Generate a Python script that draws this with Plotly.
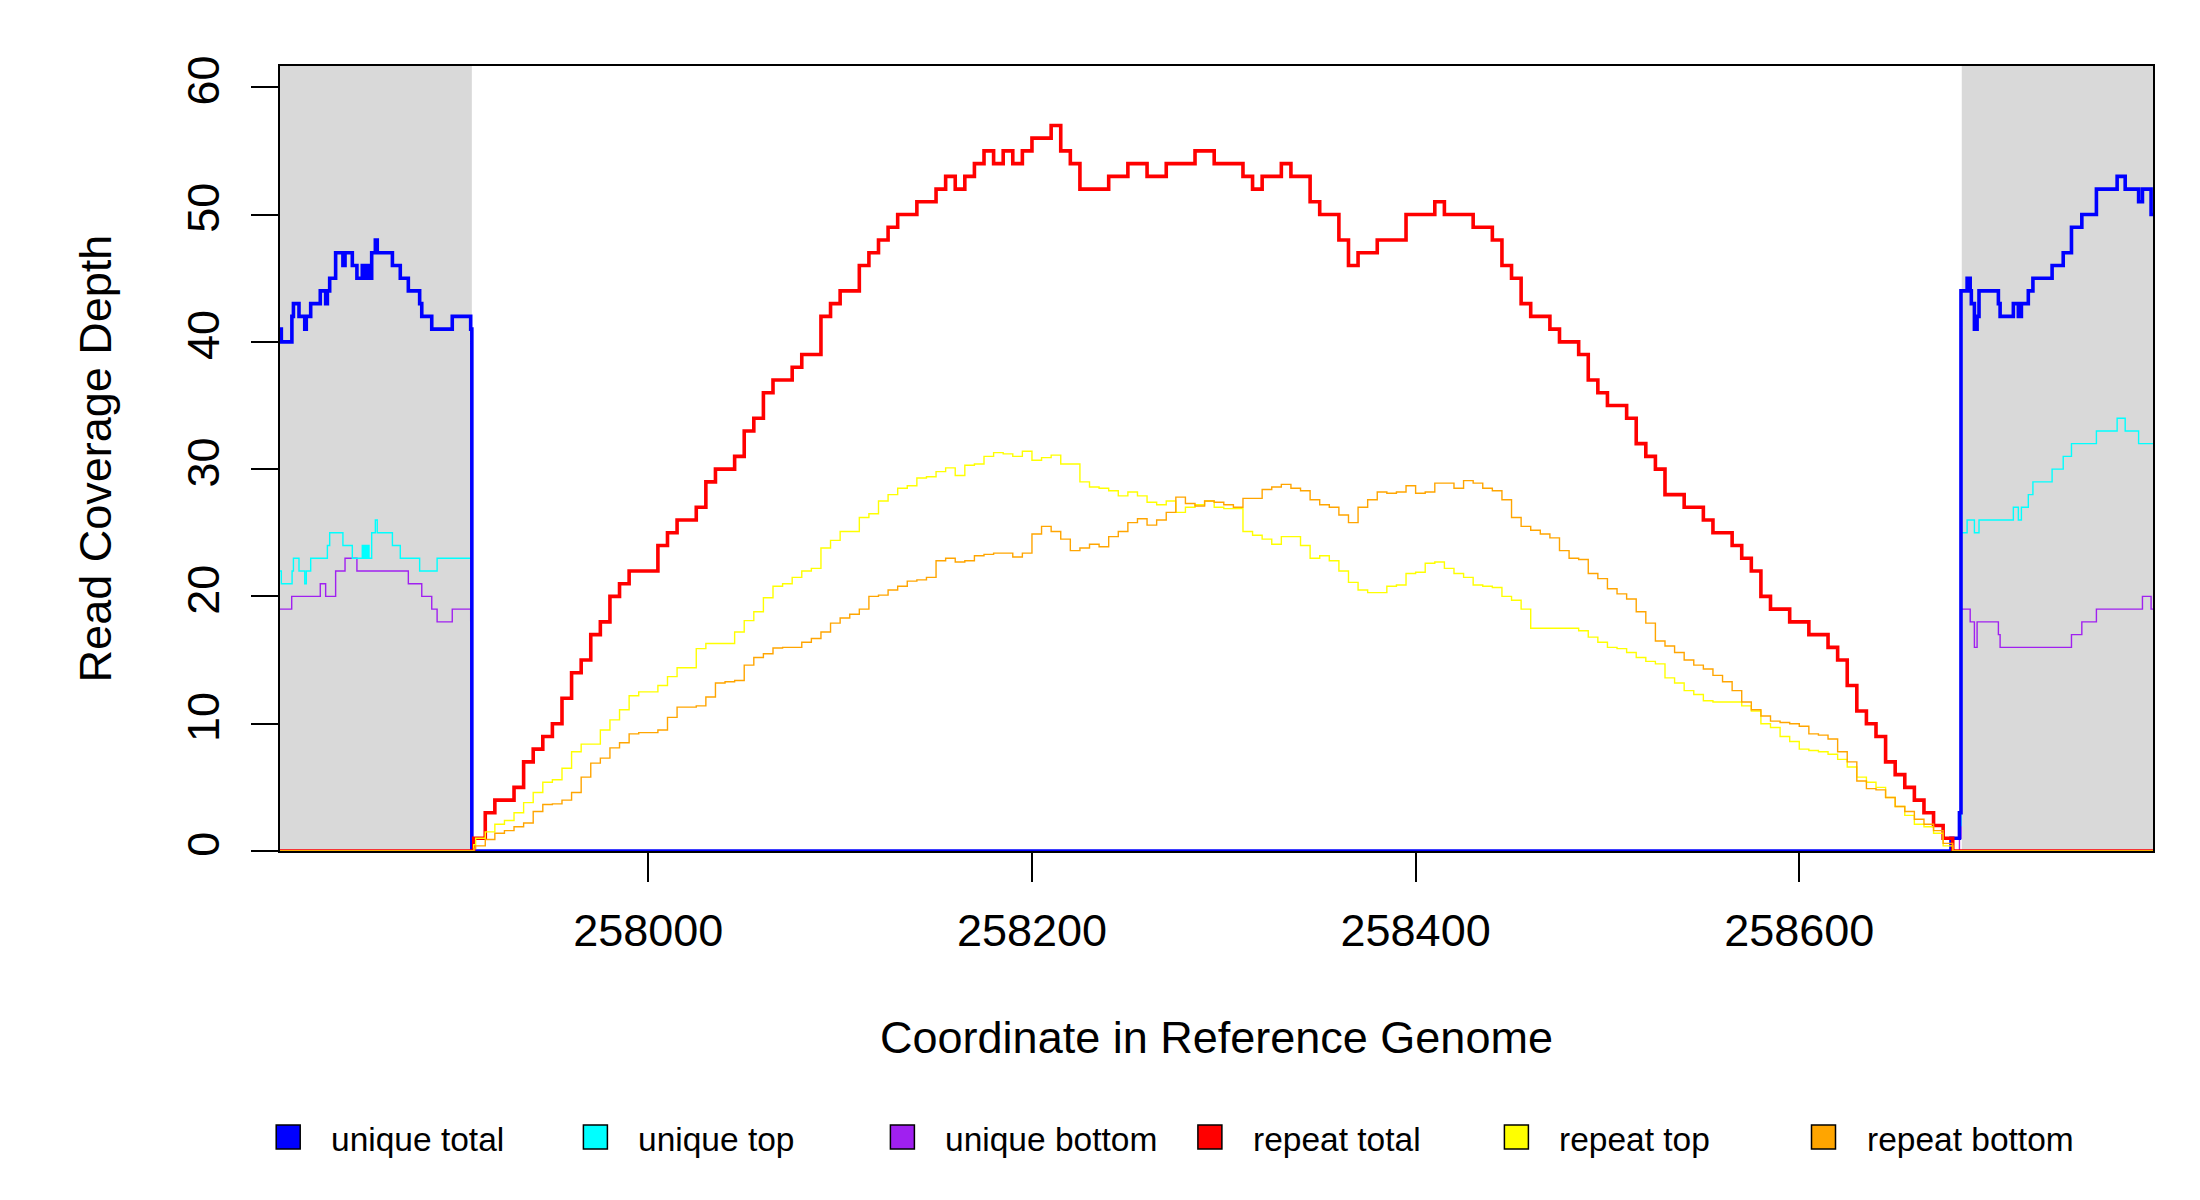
import plotly.graph_objects as go

# ---------------- data ----------------
x_ticks = [258000, 258200, 258400, 258600]
x_tick_labels = ["258000", "258200", "258400", "258600"]
y_ticks = [0, 10, 20, 30, 40, 50, 60]
flank_left = [257808, 257908]
flank_right = [258684.7, 258784.4]

series_names = ["unique total", "unique top", "unique bottom",
                "repeat total", "repeat top", "repeat bottom"]
series_colors = ["#0000FF", "#00FFFF", "#A020F0", "#FF0000", "#FFFF00", "#FFA500"]

# unique (flank) coverage: step break positions and values
unique_total_x = [257808, 257808.7, 257814.2, 257815, 257817.9, 257820.9, 257821.7, 257824,
                  257829, 257831.8, 257832.7, 257833.9, 257837, 257840.8, 257841.9, 257845.7,
                  257848.1, 257850.9, 257851.6, 257852.3, 257853, 257853.7, 257854.4, 257855.8,
                  257857.7, 257858.7, 257866.6, 257870.7, 257874.9, 257880.8, 257881.9, 257887.1,
                  257897.8, 257907.4, 257908, 258679.1, 258683.5, 258684.3, 258687.5, 258689.1,
                  258689.7, 258691.3, 258692.7, 258693.7, 258703.8, 258704.7, 258711.6, 258714.2,
                  258715.8, 258719.4, 258721.8, 258731.8, 258737.6, 258741.9, 258747.3, 258754.9,
                  258765.7, 258769.9, 258776.9, 258778.9, 258783.4, 258784.4]
unique_total_y = [41, 40, 42, 43, 42, 41, 42, 43,
                  44, 43, 44, 45, 47, 46, 47, 46,
                  45, 46, 45, 46, 45, 46, 45, 47,
                  48, 47, 46, 45, 44, 43, 42, 41,
                  42, 41, 0, 1, 3, 44, 45, 44,
                  43, 41, 42, 44, 43, 42, 43, 42,
                  43, 44, 45, 46, 47, 49, 50, 52,
                  53, 52, 51, 52, 50, 50]

unique_top_x = [257808, 257808.7, 257814.3, 257815, 257817.9, 257820.9, 257821.7, 257824,
                257832.7, 257833.9, 257840.8, 257845.7, 257850.9, 257851.6, 257852.3, 257853,
                257853.7, 257854.4, 257855.8, 257857.7, 257858.7, 257866.6, 257870.7, 257880.8,
                257889.9, 257908, 258679.1, 258683.5, 258684.3, 258687.5, 258691.3, 258693.7,
                258711.6, 258714.2, 258715.8, 258719.4, 258721.8, 258731.8, 258737.6, 258741.9,
                258754.9, 258765.7, 258769.9, 258776.9, 258784.4]
unique_top_y = [22, 21, 22, 23, 22, 21, 22, 23,
                24, 25, 24, 23, 24, 23, 24, 23,
                24, 23, 25, 26, 25, 24, 23, 22,
                23, 0, 1, 2, 25, 26, 25, 26,
                27, 26, 27, 28, 29, 30, 31, 32,
                33, 34, 33, 32, 32]

unique_bottom_x = [257808, 257814.1, 257829, 257831.8, 257837, 257841.9, 257848.1, 257874.9,
                   257881.9, 257887.1, 257889.9, 257897.8, 257907.4, 257908, 258683.5, 258684.3,
                   258689.1, 258691.3, 258692.7, 258703.8, 258704.7, 258741.9, 258747.3, 258754.9,
                   258778.9, 258783.4, 258784.4]
unique_bottom_y = [19, 20, 21, 20, 22, 23, 22, 21,
                   20, 19, 18, 19, 18, 0, 1, 19,
                   18, 16, 18, 17, 16, 17, 18, 19,
                   20, 19, 19]

# repeat coverage: sampled every 5 bp across the repeat
repeat_grid = list(range(257910, 258681, 5))
repeat_x = [257808, 257909] + repeat_grid + [258784.4]

repeat_total_grid = [
    1, 3, 4, 4, 5, 7, 8, 9, 10, 12,
    14, 15, 17, 18, 20, 21, 22, 22, 22, 24,
    25, 26, 26, 27, 29, 30, 30, 31, 33, 34,
    36, 37, 37, 38, 39, 39, 42, 43, 44, 44,
    46, 47, 48, 49, 50, 50, 51, 51, 52, 53,
    52, 53, 54, 55, 54, 55, 54, 55, 56, 56,
    57, 55, 54, 52, 52, 52, 53, 53, 54, 54,
    53, 53, 54, 54, 54, 55, 55, 54, 54, 54,
    53, 52, 53, 53, 54, 53, 53, 51, 50, 50,
    48, 46, 47, 47, 48, 48, 48, 50, 50, 50,
    51, 50, 50, 50, 49, 49, 48, 46, 45, 43,
    42, 42, 41, 40, 40, 39, 37, 36, 35, 35,
    34, 32, 31, 30, 28, 28, 27, 27, 26, 25,
    25, 24, 23, 22, 20, 19, 19, 18, 18, 17,
    17, 16, 15, 13, 11, 10, 9, 7, 6, 5,
    4, 3, 2, 1, 0]
repeat_top_grid = [
    1.0, 1.5, 2.1, 2.4, 3.0, 3.8, 4.6, 5.4, 5.6, 6.5,
    7.8, 8.4, 8.4, 9.5, 10.3, 11.1, 12.2, 12.5, 12.5, 13.0,
    13.7, 14.4, 14.4, 15.9, 16.3, 16.3, 16.3, 17.2, 18.1, 18.8,
    19.9, 20.8, 21.0, 21.5, 22.0, 22.2, 23.8, 24.4, 25.1, 25.1,
    26.2, 26.5, 27.5, 28.0, 28.5, 28.7, 29.3, 29.4, 29.8, 30.1,
    29.5, 30.3, 30.4, 31.0, 31.3, 31.2, 31.0, 31.4, 30.7, 30.9,
    31.1, 30.4, 30.4, 29.0, 28.6, 28.5, 28.3, 27.9, 28.2, 27.9,
    27.4, 27.2, 27.5, 26.6, 27.0, 27.2, 27.5, 27.0, 26.9, 26.9,
    25.1, 24.8, 24.5, 24.1, 24.7, 24.7, 24.0, 23.0, 23.2, 22.8,
    22.0, 21.1, 20.5, 20.3, 20.3, 20.8, 20.9, 21.8, 21.9, 22.6,
    22.7, 22.2, 21.8, 21.5, 20.9, 20.8, 20.7, 20.0, 19.7, 19.0,
    17.5, 17.5, 17.5, 17.5, 17.5, 17.3, 16.8, 16.4, 16.0, 15.9,
    15.6, 15.2, 14.9, 14.7, 13.6, 13.2, 12.6, 12.3, 11.8, 11.7,
    11.7, 11.7, 11.4, 11.0, 10.0, 9.7, 9.0, 8.6, 8.0, 7.9,
    7.8, 7.6, 7.2, 6.6, 5.8, 5.4, 5.0, 4.2, 3.5, 2.8,
    2.1, 1.9, 1.4, 0.4, 0]
repeat_bottom_grid = [
    0.4, 0.9, 1.4, 1.6, 1.9, 2.2, 3.1, 3.65, 3.7, 4.0,
    4.6, 5.8, 6.9, 7.3, 8.1, 8.5, 9.2, 9.3, 9.3, 9.5,
    10.5, 11.3, 11.3, 11.4, 12.1, 13.2, 13.3, 13.4, 14.6, 15.2,
    15.5, 15.95, 16.0, 16.0, 16.4, 16.7, 17.2, 17.9, 18.3, 18.6,
    19.0, 20.0, 20.1, 20.5, 20.8, 21.2, 21.3, 21.5, 22.8, 23.0,
    22.7, 22.8, 23.2, 23.3, 23.4, 23.4, 23.1, 23.4, 24.9, 25.5,
    25.1, 24.5, 23.6, 23.8, 24.1, 23.9, 24.7, 25.1, 25.8, 26.1,
    25.6, 26.0, 26.6, 27.8, 27.3, 27.1, 27.5, 27.4, 27.2, 27.0,
    27.7, 27.7, 28.4, 28.6, 28.8, 28.5, 28.3, 27.6, 27.2, 27.0,
    26.4, 25.8, 27.0, 27.6, 28.2, 28.1, 28.2, 28.7, 28.1, 28.2,
    28.9, 28.9, 28.5, 29.1, 28.9, 28.5, 28.3, 27.6, 26.2, 25.5,
    25.2, 24.9, 24.6, 23.6, 23.0, 22.9, 21.8, 21.4, 20.6, 20.2,
    19.8, 18.8, 17.9, 16.5, 16.1, 15.6, 15.0, 14.6, 14.3, 13.8,
    13.3, 12.6, 11.7, 11.1, 10.6, 10.2, 10.1, 10.0, 9.8, 9.2,
    9.1, 8.8, 7.8, 7.0, 5.5, 4.9, 4.8, 4.2, 3.5, 3.1,
    2.5, 2.1, 1.6, 0.6, 0]

repeat_total_y = [0, 1] + repeat_total_grid + [0]
repeat_top_y = [0, 0.5] + repeat_top_grid + [0]
repeat_bottom_y = [0, 0.2] + repeat_bottom_grid + [0]

# ---------------- layout constants (pixels) ----------------
W, H = 2200, 1200
L, R, T, B = 272, 55, 58, 357
PW, PH = W - L - R, H - T - B
FONT = "Liberation Sans, Arial, Helvetica, sans-serif"

fig = go.Figure()

traces = [
    (unique_bottom_x, unique_bottom_y, series_colors[2], 1.4),
    (unique_top_x, unique_top_y, series_colors[1], 1.4),
    (unique_total_x, unique_total_y, series_colors[0], 3.6),
    (repeat_x, repeat_total_y, series_colors[3], 3.6),
    (repeat_x, repeat_top_y, series_colors[4], 1.4),
    (repeat_x, repeat_bottom_y, series_colors[5], 1.4),
]
for xs, ys, col, lw in traces:
    fig.add_trace(go.Scatter(x=xs, y=ys, mode="lines", line=dict(color=col, width=lw, shape="hv"),
                             showlegend=False, hoverinfo="skip"))

shapes = []
for x0, x1 in (flank_left, flank_right):
    shapes.append(dict(type="rect", xref="x", yref="paper", x0=x0, x1=x1, y0=0, y1=1,
                       fillcolor="#D9D9D9", line=dict(width=0), layer="below"))

# legend drawn as boxes + text below the plot
leg_centers_px = [280.2, 587.4, 894.4, 1201.9, 1508.4, 1815.5]
leg_y_px = 1129
sq = 12
annotations = []
for name, col, cx in zip(series_names, series_colors, leg_centers_px):
    shapes.append(dict(type="rect", xref="paper", yref="paper",
                       x0=(cx - sq - L) / PW, x1=(cx + sq - L) / PW,
                       y0=(H - B - (leg_y_px + sq)) / PH, y1=(H - B - (leg_y_px - sq)) / PH,
                       fillcolor=col, line=dict(color="#000000", width=1.5), layer="above"))
    annotations.append(dict(xref="paper", yref="paper", x=(cx + 41 - L) / PW,
                            y=(H - B - (leg_y_px + 2)) / PH, text=name, showarrow=False,
                            xanchor="left", yanchor="middle",
                            font=dict(family=FONT, size=33.5, color="#000000")))

fig.update_layout(
    width=W, height=H, margin=dict(l=L, r=R, t=T, b=B, autoexpand=False),
    paper_bgcolor="white", plot_bgcolor="white",
    font=dict(family=FONT, color="#000000"),
    shapes=shapes, annotations=annotations, showlegend=False,
)
fig.update_xaxes(
    range=[257808, 258784.4], tickvals=x_ticks, ticktext=x_tick_labels,
    ticks="outside", ticklen=29, tickwidth=1.5, tickcolor="#000000",
    showline=True, mirror=True, linecolor="#000000", linewidth=1.5,
    showgrid=False, zeroline=False, ticklabelstandoff=10,
    tickfont=dict(family=FONT, size=45, color="#000000"),
    title=dict(text="Coordinate in Reference Genome", standoff=67,
               font=dict(family=FONT, size=45, color="#000000")),
)
fig.update_yaxes(
    range=[0, 61.67], tickvals=y_ticks, ticktext=[str(v) for v in y_ticks],
    ticks="outside", ticklen=27, tickwidth=1.5, tickcolor="#000000", tickangle=-90,
    showline=True, mirror=True, linecolor="#000000", linewidth=1.5,
    showgrid=False, zeroline=False, ticklabelstandoff=14,
    tickfont=dict(family=FONT, size=45, color="#000000"),
    title=dict(text="Read Coverage Depth", standoff=53,
               font=dict(family=FONT, size=45, color="#000000")),
)

fig.write_html("out.html")
